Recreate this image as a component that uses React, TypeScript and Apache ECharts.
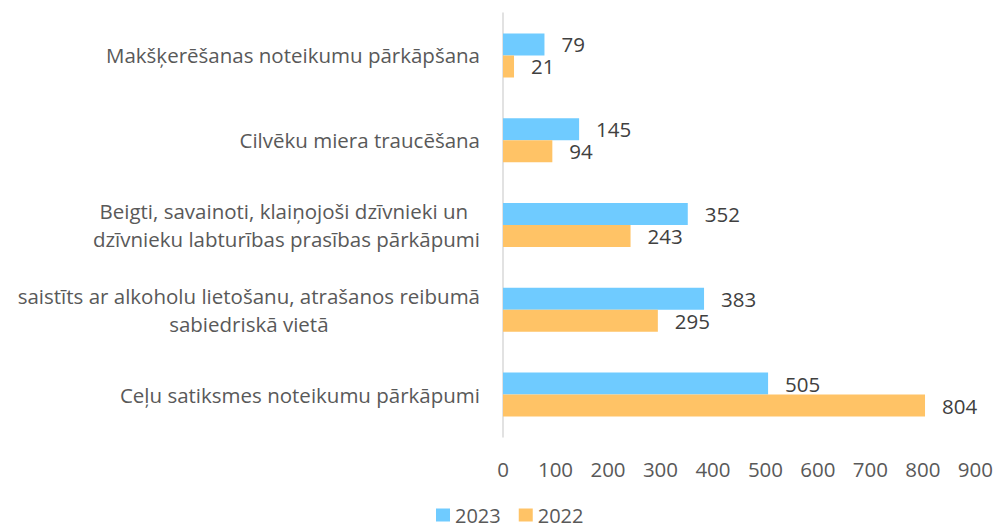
import React, { useEffect, useRef } from "react";
import * as echarts from "echarts";

const categories: string[] = [
  "Ceļu satiksmes noteikumu pārkāpumi",
  "saistīts ar alkoholu lietošanu, atrašanos reibumā\nsabiedriskā vietā",
  "Beigti, savainoti, klaiņojoši dzīvnieki un \ndzīvnieku labturības prasības pārkāpumi",
  "Cilvēku miera traucēšana",
  "Makšķerēšanas noteikumu pārkāpšana",
];
const values2023: number[] = [505, 383, 352, 145, 79];
const values2022: number[] = [804, 295, 243, 94, 21];
const seriesNames: string[] = ["2023", "2022"];
const xTicks = { min: 0, max: 900, interval: 100 };

const FONT = "Open Sans";
const TEXT = "#595959";
const FS = 20.5;

export default function App() {
  const ref = useRef<HTMLDivElement>(null);
  useEffect(() => {
    if (!ref.current) return;
    const chart = echarts.init(ref.current, undefined, { renderer: "svg" });
    chart.setOption({
      animation: false,
      textStyle: { fontFamily: FONT },
      grid: { left: 503, right: 20.5, top: 13, bottom: 91, containLabel: false },
      legend: {
        data: seriesNames,
        top: 505,
        left: 436,
        padding: 0,
        itemWidth: 14,
        itemHeight: 13,
        itemGap: 18,
        icon: "rect",
        textStyle: { fontSize: 20, lineHeight: 18, color: TEXT, fontFamily: FONT },
      },
      xAxis: {
        type: "value",
        min: xTicks.min,
        max: xTicks.max,
        interval: xTicks.interval,
        axisLine: { show: false },
        axisTick: { show: false },
        splitLine: { show: false },
        axisLabel: { fontSize: FS, color: TEXT, margin: 21, fontFamily: FONT },
      },
      yAxis: {
        type: "category",
        data: categories,
        axisLine: { show: true, lineStyle: { color: "#D9D9D9", width: 1.5 } },
        axisTick: { show: false },
        axisLabel: {
          margin: 23,
          color: TEXT,
          fontFamily: FONT,
          formatter: (v: string) =>
            v
              .split("\n")
              .map((l) => `{c|${l}}`)
              .join("\n"),
          rich: {
            c: { align: "center", fontSize: FS, lineHeight: 28, color: TEXT, fontFamily: FONT },
          },
        },
      },
      series: [
        {
          name: seriesNames[0],
          type: "bar",
          data: values2023,
          barWidth: 22,
          barGap: "0%",
          itemStyle: { color: "#6FCBFF" },
          label: { show: true, position: "right", distance: 17, fontSize: FS, color: "#404040", fontFamily: FONT },
        },
        {
          name: seriesNames[1],
          type: "bar",
          data: values2022,
          barWidth: 22,
          barGap: "0%",
          itemStyle: { color: "#FFC366" },
          label: { show: true, position: "right", distance: 17, fontSize: FS, color: "#404040", fontFamily: FONT },
        },
      ],
    });
    return () => chart.dispose();
  }, []);
  return (
    <div
      ref={ref}
      style={{ position: "absolute", left: 0, top: 0, width: 996, height: 528 }}
    />
  );
}
